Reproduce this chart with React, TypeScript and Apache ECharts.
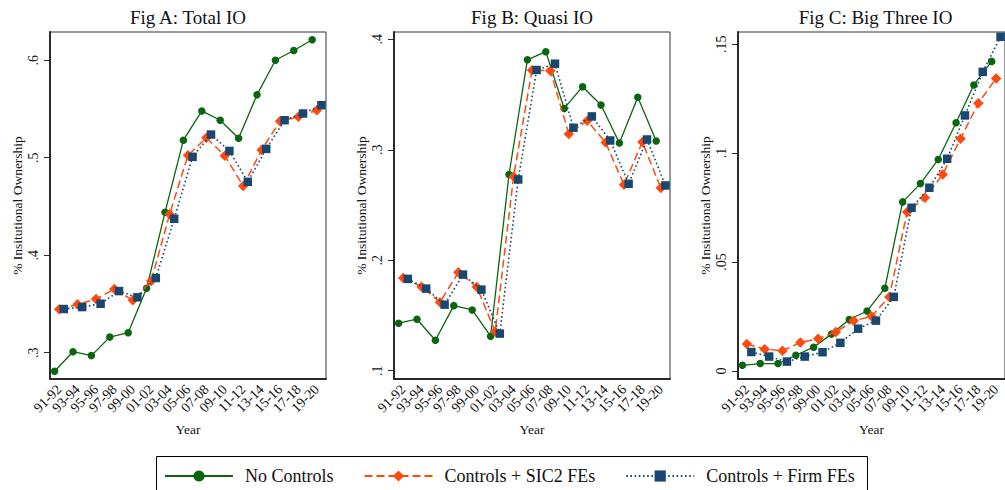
import React, { useEffect, useRef } from "react";
import * as echarts from "echarts";

// Two-year windows on the horizontal axis
const YEARS = [
  "91-92", "93-94", "95-96", "97-98", "99-00", "01-02", "03-04", "05-06",
  "07-08", "09-10", "11-12", "13-14", "15-16", "17-18", "19-20",
];

// Fig A: Total IO
const TOTAL_NO_CONTROLS = [0.281, 0.301, 0.297, 0.316, 0.3205, 0.366, 0.444, 0.518, 0.548, 0.5385, 0.52, 0.5645, 0.6, 0.61, 0.621];
const TOTAL_SIC2 = [0.3445, 0.3496, 0.355, 0.3653, 0.3537, 0.3735, 0.442, 0.5026, 0.5205, 0.502, 0.471, 0.508, 0.5375, 0.542, 0.5488];
const TOTAL_FIRM = [0.3448, 0.3468, 0.3502, 0.3632, 0.3568, 0.3766, 0.4374, 0.5009, 0.5238, 0.507, 0.4753, 0.5091, 0.5385, 0.5454, 0.5539];

// Fig B: Quasi IO
const QUASI_NO_CONTROLS = [0.143, 0.1466, 0.1276, 0.1589, 0.155, 0.1312, 0.2776, 0.3814, 0.3888, 0.3374, 0.3571, 0.3405, 0.3061, 0.3475, 0.3079];
const QUASI_SIC2 = [0.184, 0.1761, 0.162, 0.1891, 0.1758, 0.1354, 0.2758, 0.372, 0.3716, 0.3142, 0.3263, 0.3066, 0.2683, 0.307, 0.2653];
const QUASI_FIRM = [0.1831, 0.1743, 0.1598, 0.187, 0.1734, 0.1336, 0.2731, 0.3722, 0.3779, 0.3199, 0.3302, 0.3084, 0.2692, 0.3093, 0.2677];

// Fig C: Big Three IO
const BIG3_NO_CONTROLS = [0.0026, 0.0034, 0.0034, 0.0072, 0.0109, 0.0169, 0.0236, 0.0275, 0.038, 0.0776, 0.086, 0.0971, 0.1139, 0.1313, 0.1421];
const BIG3_SIC2 = [0.0124, 0.01, 0.0093, 0.013, 0.0148, 0.0179, 0.023, 0.0251, 0.034, 0.073, 0.0795, 0.0902, 0.1066, 0.1229, 0.1343];
const BIG3_FIRM = [0.0087, 0.0066, 0.0043, 0.0066, 0.0086, 0.0129, 0.0194, 0.0231, 0.034, 0.0749, 0.0841, 0.0974, 0.1173, 0.1373, 0.1534];

const TITLES = ["Fig A: Total IO", "Fig B: Quasi IO", "Fig C: Big Three IO"];
const Y_TICKS = [
  [0.3, 0.4, 0.5, 0.6],
  [0.1, 0.2, 0.3, 0.4],
  [0, 0.05, 0.1, 0.15],
];
const Y_RANGES = [
  [0.273, 0.629],
  [0.0925, 0.4066],
  [-0.0037, 0.1556],
];
const SERIES_NAMES = ["No Controls", "Controls + SIC2 FEs", "Controls + Firm FEs"];
const PANEL_DATA = [
  [TOTAL_NO_CONTROLS, TOTAL_SIC2, TOTAL_FIRM],
  [QUASI_NO_CONTROLS, QUASI_SIC2, QUASI_FIRM],
  [BIG3_NO_CONTROLS, BIG3_SIC2, BIG3_FIRM],
];

const FONT = "'Liberation Serif', 'Times New Roman', serif";
const GREEN = "#0a650f";
const ORANGE = "#ff4a0f";
const NAVY = "#1a476f";

// Grid boxes in pixels
const GRIDS = [
  { left: 50, top: 32, width: 276, height: 347 },
  { left: 394, top: 32, width: 276, height: 347 },
  { left: 738, top: 32, width: 275, height: 347 },
];

// Horizontal shift of each estimate within its window
const SHIFTS = [-0.25, 0, 0.25];

const STYLES = [
  { color: GREEN, symbol: "circle", symbolSize: 7.5, lineType: "solid" as any, width: 1.3 },
  { color: ORANGE, symbol: "diamond", symbolSize: 10.5, lineType: [8, 4] as any, width: 1.5 },
  { color: NAVY, symbol: "rect", symbolSize: 8.5, lineType: [1.6, 2.6] as any, width: 1.6 },
];

const fmtTick = (v: number) => String(v).replace(/^0\./, ".").replace(/^-0\./, "-.");

export default function App() {
  const ref = useRef<HTMLDivElement>(null);

  useEffect(() => {
    if (!ref.current) return;
    const chart = echarts.init(ref.current, undefined, { renderer: "svg" });

    const xAxis: any[] = [];
    const yAxis: any[] = [];
    const series: any[] = [];

    GRIDS.forEach((_, g) => {
      // visible category axis carrying the window labels
      xAxis.push({
        type: "category",
        gridIndex: g,
        data: YEARS,
        boundaryGap: true,
        name: "Year",
        nameLocation: "middle",
        nameGap: 40,
        nameTextStyle: { fontFamily: FONT, fontSize: 13.5, color: "#111" },
        axisLine: { onZero: false, lineStyle: { color: "#2a2a2a", width: 2 } },
        axisTick: { alignWithLabel: true, interval: 0, length: 6, lineStyle: { color: "#2a2a2a", width: 1 } },
        axisLabel: { interval: 0, rotate: 45, margin: 8, fontFamily: FONT, fontSize: 14, color: "#111" },
        splitLine: { show: false },
      });
    });
    GRIDS.forEach((_, g) => {
      // hidden numeric axis used to place the shifted points
      xAxis.push({
        type: "value",
        gridIndex: g,
        min: -0.5,
        max: YEARS.length - 0.5,
        show: false,
        splitLine: { show: false },
      });
    });

    GRIDS.forEach((_, g) => {
      yAxis.push({
        type: "value",
        gridIndex: g,
        min: Y_RANGES[g][0],
        max: Y_RANGES[g][1],
        name: "% Insitutional Ownership",
        nameLocation: "middle",
        nameGap: 26,
        nameRotate: 90,
        nameTextStyle: { fontFamily: FONT, fontSize: 13.5, color: "#111" },
        axisLine: { show: true, onZero: false, lineStyle: { color: "#2a2a2a", width: 2 } },
        axisTick: { show: true, length: 6, customValues: Y_TICKS[g], lineStyle: { color: "#2a2a2a", width: 1 } },
        axisLabel: {
          rotate: 90,
          margin: 10,
          customValues: Y_TICKS[g],
          fontFamily: FONT,
          fontSize: 14,
          color: "#111",
          formatter: (v: number) => fmtTick(v),
        },
        splitLine: { show: false },
      });

      PANEL_DATA[g].forEach((vals, s) => {
        const st = STYLES[s];
        series.push({
          type: "line",
          name: SERIES_NAMES[s],
          xAxisIndex: GRIDS.length + g,
          yAxisIndex: g,
          data: vals.map((v, i) => [i + SHIFTS[s], v]),
          symbol: st.symbol,
          symbolSize: st.symbolSize,
          showSymbol: true,
          itemStyle: { color: st.color, opacity: 1 },
          lineStyle: { color: st.color, width: st.width, type: st.lineType },
          z: 2 + s,
        });
      });
    });

    chart.setOption({
      animation: false,
      backgroundColor: "#ffffff",
      grid: GRIDS.map((b) => ({
        ...b,
        show: true,
        borderColor: "#333",
        borderWidth: 1,
        backgroundColor: "transparent",
        containLabel: false,
      })),
      xAxis,
      yAxis,
      series,
      legend: {
        data: SERIES_NAMES,
        left: 164,
        top: 467,
        padding: 0,
        itemWidth: 68,
        itemHeight: 14,
        itemGap: 30,
        selectedMode: false,
        textStyle: { fontFamily: FONT, fontSize: 18, color: "#111", padding: [0, 0, 0, 7] },
      },
      graphic: [
        {
          type: "rect",
          shape: { x: 156.5, y: 456.5, width: 711, height: 40 },
          style: { fill: "#fff", stroke: "#000", lineWidth: 1 },
          z: -10,
          silent: true,
        },
        ...TITLES.map((t, g) => ({
          type: "text",
          x: GRIDS[g].left + GRIDS[g].width / 2,
          y: 17,
          style: {
            text: t,
            font: `19px ${FONT}`,
            fill: "#111",
            textAlign: "center",
            textVerticalAlign: "middle",
          },
          silent: true,
        })),
      ],
    });

    return () => chart.dispose();
  }, []);

  return (
    <div
      ref={ref}
      style={{ position: "fixed", left: 0, top: 0, width: 1005, height: 490, background: "#fff" }}
    />
  );
}
